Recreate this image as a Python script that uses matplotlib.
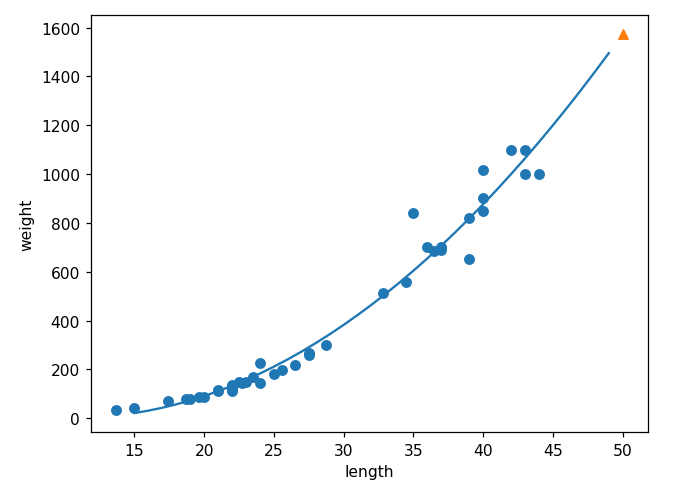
import numpy as np
import matplotlib
matplotlib.use('Agg')
import matplotlib.pyplot as plt

# perch training set (length cm, weight g)
train_length = [13.7, 15.0, 17.4, 18.7, 19.0, 19.6, 20.0, 21.0, 21.0, 22.0,
                22.0, 22.0, 22.0, 22.0, 22.5, 22.7, 23.0, 23.5, 24.0, 24.0,
                25.0, 25.6, 26.5, 27.5, 27.5, 28.7, 32.8, 34.5, 35.0, 36.5,
                36.0, 37.0, 37.0, 39.0, 39.0, 40.0, 40.0, 40.0, 42.0, 43.0,
                43.0, 44.0]
train_weight = [32.0, 40.0, 70.0, 78.0, 80.0, 85.0, 85.0, 110.0, 115.0, 120.0,
                120.0, 130.0, 135.0, 110.0, 150.0, 145.0, 150.0, 170.0, 225.0, 145.0,
                180.0, 197.0, 218.0, 260.0, 265.0, 300.0, 514.0, 556.0, 840.0, 685.0,
                700.0, 700.0, 690.0, 650.0, 820.0, 850.0, 900.0, 1015.0, 1100.0, 1000.0,
                1100.0, 1000.0]
new_length = 50

# quadratic model fitted on the training set
coef = np.polyfit(train_length, train_weight, 2)
point = np.arange(15, 50)
pred = np.polyval(coef, new_length)

dpi = 112
fig = plt.figure(figsize=(680 / dpi, 495 / dpi), dpi=dpi)
fig.subplots_adjust(left=91 / 680, right=648 / 680, top=1 - 16 / 495, bottom=1 - 433 / 495)
ax = fig.add_subplot(111)

ax.scatter(train_length, train_weight)
ax.plot(point, np.polyval(coef, point))
ax.scatter([new_length], [pred], marker='^')
ax.set_xlabel('length')
ax.set_ylabel('weight')

fig.savefig('out.png', dpi=dpi)
